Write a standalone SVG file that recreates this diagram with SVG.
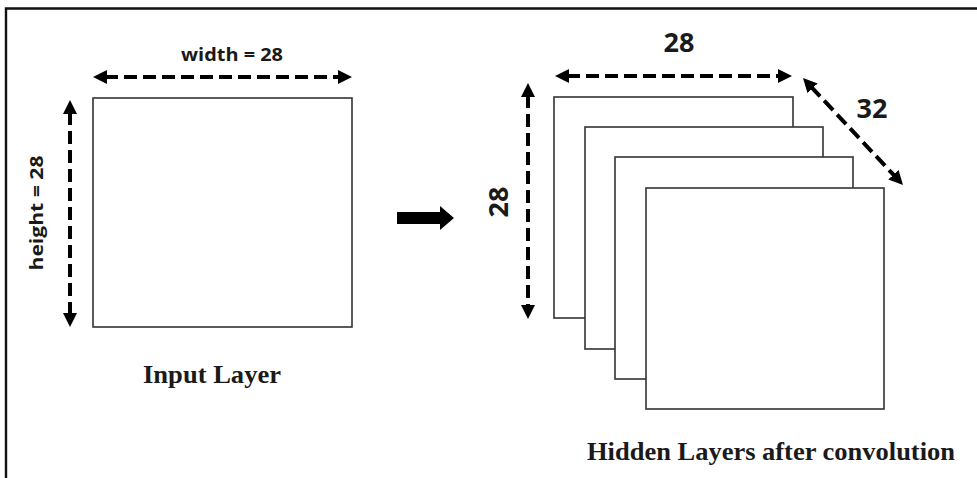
<svg xmlns="http://www.w3.org/2000/svg" width="977" height="478" viewBox="0 0 977 478">
  <style>
    .frame { stroke: #111; stroke-width: 2.4; fill: none; }
    .layer { fill: #fff; stroke: #333; stroke-width: 1.6; }
    .dim { stroke: #000; stroke-width: 4; stroke-dasharray: 13 6; fill: none; }
    .sans { font-family: "Open Sans", "Liberation Sans", sans-serif; font-weight: bold; fill: #1a1a1a; }
    .serif { font-family: "Liberation Serif", "Times New Roman", serif; font-weight: bold; font-size: 26px; fill: #1a1a1a; }
  </style>
  <defs>
    <marker id="ah" markerUnits="userSpaceOnUse" markerWidth="16" markerHeight="16" viewBox="0 -8 16 16" refX="2" refY="0" orient="auto-start-reverse">
      <path d="M0,-7 L14,0 L0,7 Z" fill="#000"/>
    </marker>
  </defs>
  <rect width="977" height="478" fill="#fff"/>
  <g id="frame">
    <path class="frame" d="M6,478 V8.5 H977"/>
  </g>
  <g id="input-layer">
    <rect class="layer" x="93" y="98" width="259" height="229"/>
    <text class="serif" x="212" y="383" text-anchor="middle" textLength="138" lengthAdjust="spacingAndGlyphs">Input Layer</text>
  </g>
  <g id="hidden-layers">
    <rect class="layer" x="554" y="97" width="239" height="221"/>
    <rect class="layer" x="585" y="127" width="238" height="222"/>
    <rect class="layer" x="615" y="157" width="238" height="222"/>
    <rect class="layer" x="646" y="188" width="238" height="221"/>
    <text class="serif" x="587" y="460" textLength="368" lengthAdjust="spacingAndGlyphs">Hidden Layers after convolution</text>
  </g>
  <g id="connectors">
    <line class="dim" x1="105" y1="77" x2="340" y2="77" marker-start="url(#ah)" marker-end="url(#ah)"/>
    <line class="dim" x1="70" y1="112" x2="70" y2="315" marker-start="url(#ah)" marker-end="url(#ah)"/>
    <line class="dim" x1="567" y1="76" x2="780" y2="76" marker-start="url(#ah)" marker-end="url(#ah)"/>
    <line class="dim" x1="528" y1="95" x2="528" y2="307" marker-start="url(#ah)" marker-end="url(#ah)"/>
    <line class="dim" x1="811.2" y1="86.8" x2="894.8" y2="176.2" marker-start="url(#ah)" marker-end="url(#ah)"/>
    <path id="transform-arrow" d="M397,212 H440 V206 L454,218 L440,230 V224 H397 Z" fill="#000"/>
  </g>
  <g id="labels">
    <text class="sans" x="232" y="61" font-size="18" text-anchor="middle" textLength="102" lengthAdjust="spacingAndGlyphs">width = 28</text>
    <text class="sans" font-size="18" text-anchor="middle" textLength="115" lengthAdjust="spacingAndGlyphs" transform="translate(43,213) rotate(-90)">height = 28</text>
    <text class="sans" x="679" y="52" font-size="27" text-anchor="middle">28</text>
    <text class="sans" x="872" y="118" font-size="27" text-anchor="middle">32</text>
    <text class="sans" font-size="27" text-anchor="middle" transform="translate(508,202) rotate(-90)">28</text>
  </g>
</svg>
